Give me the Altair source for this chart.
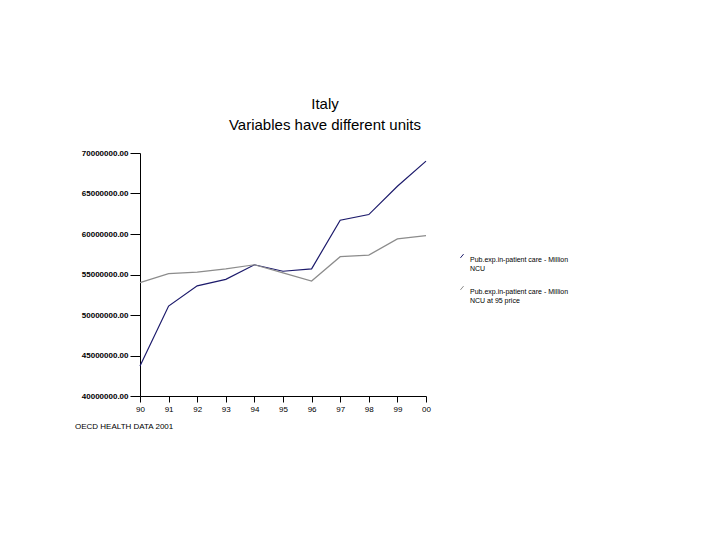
import altair as alt
import pandas as pd

years = ["90", "91", "92", "93", "94", "95", "96", "97", "98", "99", "00"]
series_names = [
    "Pub.exp.in-patient care - Million|NCU",
    "Pub.exp.in-patient care - Million|NCU at 95 price",
]
ncu = [43.7, 51.1, 53.6, 54.4, 56.2, 55.4, 55.7, 61.7, 62.4, 65.9, 69.0]
ncu95 = [54.0, 55.1, 55.3, 55.7, 56.2, 55.2, 54.2, 57.2, 57.4, 59.4, 59.8]
colors = ["#1c1a6b", "#8c8c8c"]
y_ticks = [40000000, 45000000, 50000000, 55000000, 60000000, 65000000, 70000000]

rows = []
for name, vals in zip(series_names, [ncu, ncu95]):
    for yr, v in zip(years, vals):
        rows.append({"year": yr, "series": name, "value": v * 1_000_000})
df = pd.DataFrame(rows)

W, H = 286, 243
font = "Liberation Sans"

lines = alt.Chart(df).mark_line(strokeWidth=1.2).encode(
    x=alt.X("year:O", sort=years, scale=alt.Scale(type="point", padding=0),
            axis=alt.Axis(title=None, labelAngle=0, labelFontSize=8, labelFont=font,
                          tickSize=6, domainColor="black", tickColor="black",
                          labelColor="black", labelPadding=3, grid=False)),
    y=alt.Y("value:Q", scale=alt.Scale(domain=[40000000, 70000000], nice=False, zero=False),
            axis=alt.Axis(title=None, values=y_ticks, format=".2f", labelFontSize=8,
                          labelFont=font, tickSize=10, domainColor="black",
                          tickColor="black", labelColor="black", labelPadding=2, grid=False,
                          labelFontWeight="bold")),
    color=alt.Color("series:N", sort=series_names,
                    scale=alt.Scale(domain=series_names, range=colors),
                    legend=alt.Legend(title=None, orient="none", legendX=318, legendY=99,
                                      labelExpr="split(datum.label, '|')",
                                      labelFontSize=7, labelFont=font, labelColor="black",
                                      symbolType="M -0.5 0.6 L 0.5 -0.6", symbolStrokeWidth=1,
                                      symbolSize=40, rowPadding=12, labelLimit=200,
                                      labelBaseline="top", symbolOffset=0)),
)

source = alt.Chart(pd.DataFrame({"t": ["OECD HEALTH DATA 2001"]})).mark_text(
    align="left", baseline="middle", fontSize=8, font=font, color="black"
).encode(x=alt.value(-65), y=alt.value(H + 31), text="t:N")

chart = alt.layer(lines, source).properties(
    width=W, height=H,
    padding={"left": 132, "top": 145, "right": 270, "bottom": 120},
    autosize=alt.AutoSizeParams(type="none"),
    title=alt.TitleParams(["Italy", "Variables have different units"], fontSize=15,
                          fontWeight="normal", font=font, color="black", anchor="middle",
                          dx=42, offset=16, lineHeight=21),
).configure(background="white", view=alt.ViewConfig(stroke=None))

chart.save("out.html", embed_options={"renderer": "svg", "actions": False})
